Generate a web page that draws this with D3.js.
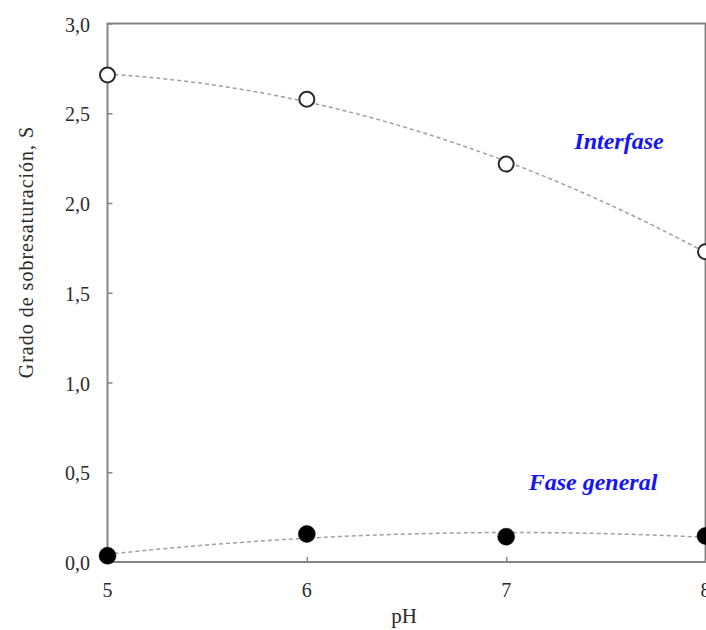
<!DOCTYPE html>
<html>
<head>
<meta charset="utf-8">
<script src="https://cdn.jsdelivr.net/npm/d3@7"></script>
<style>
  html, body { margin: 0; padding: 0; background: #fff; }
  svg { display: block; }
  text { font-family: "Liberation Serif", "Times New Roman", serif; }
</style>
</head>
<body>
<svg id="chart" width="706" height="630"></svg>
<script>
// pH values on the x axis
const phValues = [5, 6, 7, 8];
// degree of supersaturation at the interface (open circles)
const interfaseS = [2.713, 2.578, 2.217, 1.729];
// degree of supersaturation in the bulk phase (filled circles)
const faseGeneralS = [0.035, 0.156, 0.141, 0.145];
// axis ticks
const xTicks = [5, 6, 7, 8];
const yTicks = [0, 0.5, 1.0, 1.5, 2.0, 2.5, 3.0];

const svg = d3.select("#chart");
const margin = { left: 107.5, right: 0.5, top: 23.5, bottom: 68 };
const W = 706, H = 630;

const x = d3.scaleLinear().domain([5, 8]).range([margin.left, W - margin.right]);
const y = d3.scaleLinear().domain([0, 3]).range([H - margin.bottom, margin.top]);

const fmt = d => d3.format(".1f")(d).replace(".", ",");
const axisColor = "#858585";
const textColor = "#2b2b2b";

// second-order least-squares trend through a series
function quadFit(xs, ys) {
  const n = xs.length;
  let s = [0, 0, 0, 0, 0], t = [0, 0, 0];
  xs.forEach((xv, i) => {
    for (let k = 0; k < 5; k++) s[k] += Math.pow(xv, k);
    for (let k = 0; k < 3; k++) t[k] += ys[i] * Math.pow(xv, k);
  });
  const M = [[s[0], s[1], s[2]], [s[1], s[2], s[3]], [s[2], s[3], s[4]]];
  const det3 = m => m[0][0] * (m[1][1] * m[2][2] - m[1][2] * m[2][1])
    - m[0][1] * (m[1][0] * m[2][2] - m[1][2] * m[2][0])
    + m[0][2] * (m[1][0] * m[2][1] - m[1][1] * m[2][0]);
  const D = det3(M);
  const coef = [0, 1, 2].map(c => det3(M.map((row, r) => row.map((v, j) => j === c ? t[r] : v))) / D);
  return xv => coef[0] + coef[1] * xv + coef[2] * xv * xv;
}

// trend lines
const trendLine = d3.line().x(d => x(d[0])).y(d => y(d[1]));
[interfaseS, faseGeneralS].forEach(series => {
  const f = quadFit(phValues, series);
  const pts = d3.range(5, 8.0001, 0.05).map(v => [v, f(v)]);
  svg.append("path")
    .attr("d", trendLine(pts))
    .attr("fill", "none")
    .attr("stroke", "#a0a0a0")
    .attr("stroke-width", 1.5)
    .attr("stroke-dasharray", "4,3");
});

// frame
svg.append("rect")
  .attr("x", margin.left).attr("y", margin.top)
  .attr("width", W - margin.right - margin.left)
  .attr("height", H - margin.bottom - margin.top)
  .attr("fill", "none").attr("stroke", axisColor).attr("stroke-width", 2);

// left axis, ticks pointing inwards
const yAxis = svg.append("g")
  .attr("transform", `translate(${margin.left},0)`)
  .call(d3.axisRight(y).tickValues(yTicks).tickSize(5).tickFormat(""));
yAxis.select(".domain").remove();
yAxis.selectAll("line").attr("stroke", axisColor).attr("stroke-width", 1.5);

svg.selectAll(".ylab").data(yTicks).join("text")
  .attr("class", "ylab")
  .attr("x", 90).attr("y", d => y(d) + 8)
  .attr("text-anchor", "end")
  .attr("font-size", 20)
  .attr("fill", textColor)
  .text(fmt);

// bottom axis, ticks pointing inwards
const xAxis = svg.append("g")
  .attr("transform", `translate(0,${H - margin.bottom})`)
  .call(d3.axisTop(x).tickValues(xTicks).tickSize(5).tickFormat(""));
xAxis.select(".domain").remove();
xAxis.selectAll("line").attr("stroke", axisColor).attr("stroke-width", 1.5);

svg.selectAll(".xlab").data(xTicks).join("text")
  .attr("class", "xlab")
  .attr("x", d => x(d)).attr("y", 597)
  .attr("text-anchor", "middle")
  .attr("font-size", 20)
  .attr("fill", textColor)
  .text(d => d);

// axis titles
svg.append("text")
  .attr("x", 404).attr("y", 623)
  .attr("text-anchor", "middle")
  .attr("font-size", 21)
  .attr("fill", textColor)
  .text("pH");

svg.append("text")
  .attr("transform", "translate(33,252) rotate(-90)")
  .attr("text-anchor", "middle")
  .attr("font-size", 20)
  .attr("letter-spacing", 1)
  .attr("fill", textColor)
  .text("Grado de sobresaturación, S");

// markers
svg.selectAll(".open").data(phValues).join("circle")
  .attr("class", "open")
  .attr("cx", d => x(d)).attr("cy", (d, i) => y(interfaseS[i]))
  .attr("r", 7.5)
  .attr("fill", "#fff").attr("stroke", "#2a2a2a").attr("stroke-width", 2);

svg.selectAll(".filled").data(phValues).join("circle")
  .attr("class", "filled")
  .attr("cx", d => x(d)).attr("cy", (d, i) => y(faseGeneralS[i]))
  .attr("r", 8.5)
  .attr("fill", "#000").attr("stroke", "#000").attr("stroke-width", 0.5);

// series labels
svg.append("text")
  .attr("x", 619).attr("y", 149)
  .attr("text-anchor", "middle")
  .attr("font-size", 24).attr("font-weight", "bold").attr("font-style", "italic")
  .attr("fill", "#1414f5")
  .text("Interfase");

svg.append("text")
  .attr("x", 593).attr("y", 490)
  .attr("text-anchor", "middle")
  .attr("font-size", 24).attr("font-weight", "bold").attr("font-style", "italic")
  .attr("fill", "#1414f5")
  .text("Fase general");
</script>
</body>
</html>
